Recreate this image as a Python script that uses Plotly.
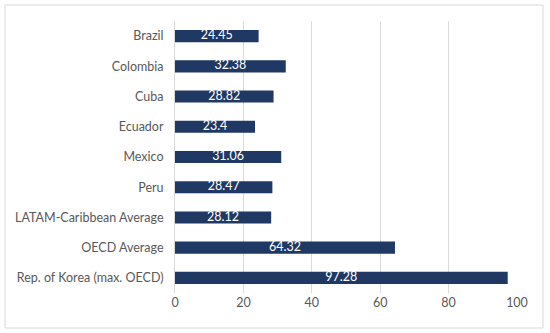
import plotly.graph_objects as go

categories = ["Brazil", "Colombia", "Cuba", "Ecuador", "Mexico", "Peru",
              "LATAM-Caribbean Average", "OECD Average", "Rep. of Korea (max. OECD)"]
values = [24.45, 32.38, 28.82, 23.4, 31.06, 28.47, 28.12, 64.32, 97.28]
labels = ["24.45", "32.38", "28.82", "23.4", "31.06", "28.47", "28.12", "64.32", "97.28"]
tick_vals = [0, 20, 40, 60, 80, 100]

fig = go.Figure()
fig.add_trace(go.Bar(
    x=values, y=categories, orientation="h",
    marker=dict(color="#203864", line=dict(width=0)),
    width=0.4, hoverinfo="x+y",
))
fig.add_trace(go.Scatter(
    x=[v / 2 for v in values], y=categories, mode="text",
    text=labels, textposition="middle center",
    textfont=dict(color="white", size=12.5, family="Lato"),
    hoverinfo="skip",
))

fig.update_layout(
    width=550, height=333,
    margin=dict(l=175, r=33, t=21, b=40, autoexpand=False),
    paper_bgcolor="white", plot_bgcolor="white",
    font=dict(family="Lato", size=12.5, color="#595959"),
    showlegend=False,
    xaxis=dict(range=[0, 100], tickvals=tick_vals, showgrid=True,
               gridcolor="#D9D9D9", gridwidth=1, zeroline=False,
               showline=False, ticks="", automargin=False,
               tickfont=dict(size=12.5, color="#595959")),
    yaxis=dict(autorange="reversed", showgrid=False, showline=True,
               linecolor="#D9D9D9", linewidth=1, ticks="", automargin=False,
               ticklabelstandoff=8, tickfont=dict(size=12.5, color="#595959")),
    shapes=[dict(type="rect", xref="paper", yref="paper", layer="above",
                 x0=-170 / 342, x1=1 + 26 / 342, y0=-35 / 272, y1=1 + 16 / 272,
                 line=dict(color="#D9D9D9", width=1))],
)

fig.write_html("out.html", config={"displayModeBar": False},
               post_script="document.body.style.margin='0';")
